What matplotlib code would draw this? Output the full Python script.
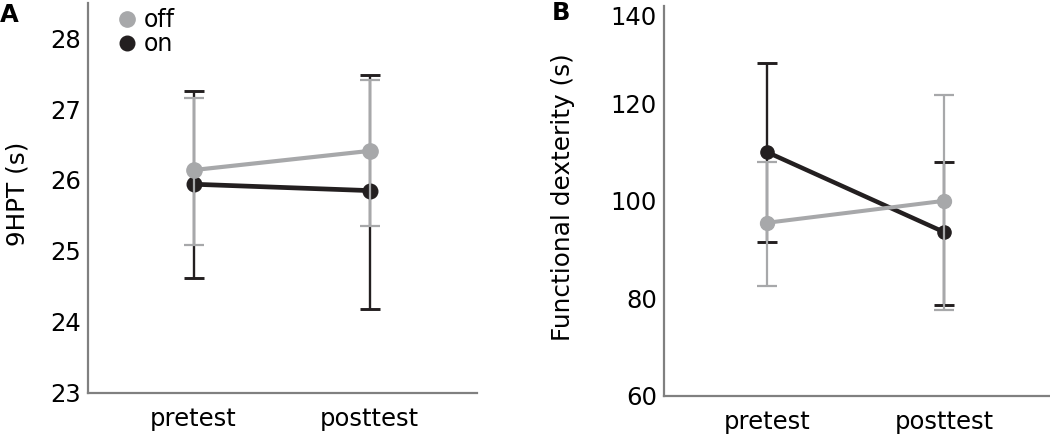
import matplotlib
matplotlib.use("Agg")
import matplotlib.pyplot as plt
import numpy as np

# ---------------- data ----------------
conditions = ["pretest", "posttest"]
series_names = ["off", "on"]

# Panel A: 9HPT (s)
off_A = [26.14, 26.41]
off_A_lo = [25.09, 25.35]
off_A_hi = [27.15, 27.41]
on_A = [25.94, 25.85]
on_A_lo = [24.62, 24.18]
on_A_hi = [27.26, 27.48]
yticks_A = [23, 24, 25, 26, 27, 28]

# Panel B: Functional dexterity (s)
off_B = [95.5, 100.0]
off_B_lo = [82.5, 77.6]
off_B_hi = [108.0, 121.8]
on_B = [110.0, 93.6]
on_B_lo = [91.5, 78.7]
on_B_hi = [128.4, 108.0]
yticks_B = [60, 80, 100, 120, 140]

# ---------------- style ----------------
GREY = "#a7a8aa"
BLACK = "#231f20"
SPINE = "#808080"
FONT = "DejaVu Sans"
plt.rcParams["font.family"] = [FONT]

W, H = 1050, 434
fig = plt.figure(figsize=(W / 100, H / 100), dpi=100)


def px_axes(left, right, top, bottom):
    return fig.add_axes([left / W, 1 - bottom / H, (right - left) / W, (bottom - top) / H])


def draw_panel(ax, off, off_lo, off_hi, on, on_lo, on_hi, ylim, yticks, xlim, ylabel, label_x,
               ms, lw_on, lw_off):
    x = np.arange(len(conditions))
    on_err = [np.array(on) - np.array(on_lo), np.array(on_hi) - np.array(on)]
    off_err = [np.array(off) - np.array(off_lo), np.array(off_hi) - np.array(off)]
    # black ("on") series
    ax.errorbar(x, on, yerr=on_err, fmt="none", ecolor=BLACK, elinewidth=1.7,
                capsize=7, capthick=2.1, zorder=2)
    ax.plot(x, on, "-o", color=BLACK, lw=lw_on, ms=ms, zorder=3, label=series_names[1])
    # grey ("off") series
    ax.errorbar(x, off, yerr=off_err, fmt="none", ecolor=GREY, elinewidth=1.6,
                capsize=7, capthick=1.6, zorder=4)
    ax.plot(x, off, "-o", color=GREY, lw=lw_off, ms=ms + 0.5, zorder=5, label=series_names[0])

    ax.set_xlim(*xlim)
    ax.set_ylim(*ylim)
    ax.set_xticks(x)
    ax.set_xticklabels(conditions)
    ax.set_yticks(yticks)
    ax.tick_params(axis="both", length=0, labelsize=17.5, colors="black")
    ax.tick_params(axis="y", pad=5)
    ax.tick_params(axis="x", pad=10)
    for s in ["top", "right"]:
        ax.spines[s].set_visible(False)
    for s in ["left", "bottom"]:
        ax.spines[s].set_color(SPINE)
        ax.spines[s].set_linewidth(1.6)
    ax.set_ylabel(ylabel, fontsize=17.8)
    ax.yaxis.label.set_va("center")
    ax.yaxis.set_label_coords(label_x, 0.51)
    ax.patch.set_alpha(0)


axA = px_axes(88, 477, 2.7, 392.7)
draw_panel(axA, off_A, off_A_lo, off_A_hi, on_A, on_A_lo, on_A_hi,
           (23, 28.5), yticks_A, (-0.6, 1.61), "9HPT (s)", -0.182, 10.5, 3.4, 3.0)

axB = px_axes(663.7, 1050, 6, 395.7)
draw_panel(axB, off_B, off_B_lo, off_B_hi, on_B, on_B_lo, on_B_hi,
           (60, 140), yticks_B, (-0.585, 1.6), "Functional dexterity (s)", -0.26, 9.5, 3.2, 2.9)

# keep the top tick label of panel B inside the figure (as in the reference)
fig.canvas.draw()
axB.get_yticklabels()[-1].set_va("top")

# legend in panel A
h, l = axA.get_legend_handles_labels()
order = [l.index("off"), l.index("on")]
axA.legend([h[i] for i in order], [l[i] for i in order], loc="upper left",
           bbox_to_anchor=(0.1, 0.987), frameon=False, fontsize=17,
           handlelength=0.0, handletextpad=0.7, labelspacing=0.02,
           borderpad=0, borderaxespad=0, markerscale=1.0)

fig.text(0 / W, 1 - 15 / H, "A", fontsize=17.5, fontweight="bold", va="center", ha="left")
fig.text(552 / W, 1 - 13 / H, "B", fontsize=17.5, fontweight="bold", va="center", ha="left")

fig.savefig("out.png", dpi=100)
